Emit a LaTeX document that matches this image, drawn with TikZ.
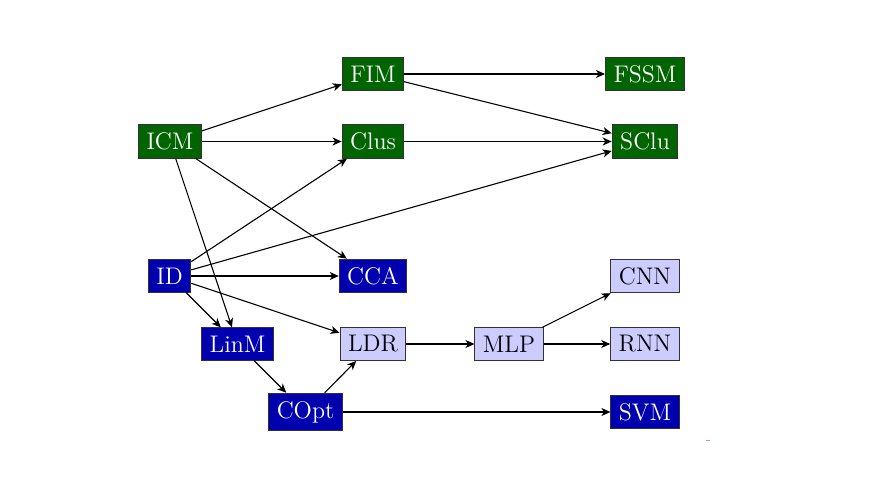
\documentclass[tikz,border=0pt]{standalone}
\usetikzlibrary{arrows.meta}
\definecolor{dgreen}{RGB}{0,100,0}
\definecolor{dblue}{RGB}{0,0,175}
\definecolor{lblue}{RGB}{204,204,255}
\tikzset{
  box/.style={draw=black!80, line width=0.5pt, inner xsep=4pt, inner ysep=4pt, font=\fontsize{12}{14}\selectfont},
  gbox/.style={box, fill=dgreen, text=white},
  bbox/.style={box, fill=dblue, text=white},
  lbox/.style={box, fill=lblue, text=black},
  conn/.style={-{Stealth[length=4.5pt,width=4pt,inset=1.3pt]}, line width=0.55pt, black}
}
\begin{document}
\begin{tikzpicture}[x=0.5pt,y=-0.5pt]
\useasboundingbox (0,0) rectangle (887,491);
\node[gbox] (FIM) at (373,74) {FIM};
\node[gbox] (FSSM) at (645,74) {FSSM};
\node[gbox] (ICM) at (170,141.5) {ICM};
\node[gbox] (Clus) at (373,141.5) {Clus};
\node[gbox] (SClu) at (645,141.5) {SClu};
\node[bbox] (ID) at (169.5,276) {ID};
\node[bbox] (CCA) at (373,276) {CCA};
\node[lbox] (CNN) at (645,276) {CNN};
\node[bbox] (LinM) at (237.5,344) {LinM};
\node[lbox] (LDR) at (373,344) {LDR};
\node[lbox] (MLP) at (509,344) {MLP};
\node[lbox] (RNN) at (645,344) {RNN};
\node[bbox] (COpt) at (305.5,412) {COpt};
\node[bbox] (SVM) at (645,412) {SVM};
\draw[conn] (ICM) -- (FIM);
\draw[conn] (ICM) -- (Clus);
\draw[conn] (ICM) -- (CCA);
\draw[conn] (ICM) -- (LinM);
\draw[conn] (FIM) -- (FSSM);
\draw[conn] (FIM) -- (SClu);
\draw[conn] (Clus) -- (SClu);
\draw[conn] (ID) -- (Clus);
\draw[conn] (ID) -- (SClu);
\draw[conn] (ID) -- (CCA);
\draw[conn] (ID) -- (LinM);
\draw[conn] (ID) -- (LDR);
\draw[conn] (LinM) -- (COpt);
\draw[conn] (COpt) -- (LDR);
\draw[conn] (COpt) -- (SVM);
\draw[conn] (LDR) -- (MLP);
\draw[conn] (MLP) -- (CNN);
\draw[conn] (MLP) -- (RNN);
\fill[red!50!white] (706,439.5) rectangle (710,440.5);
\end{tikzpicture}
\end{document}
